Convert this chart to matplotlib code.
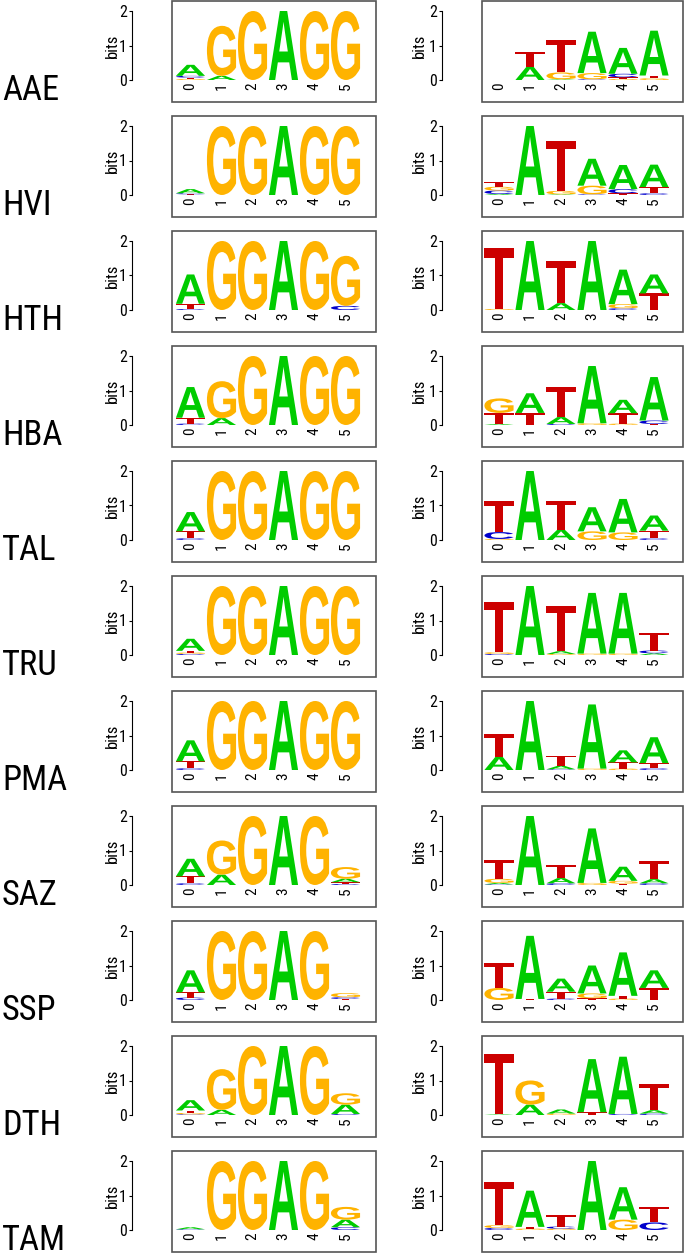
import matplotlib
matplotlib.use('Agg')
import matplotlib.pyplot as plt
from matplotlib.textpath import TextPath, TextToPath
from matplotlib.patches import PathPatch, Rectangle
from matplotlib.font_manager import FontProperties
from matplotlib import font_manager as fm
import matplotlib.transforms as mtransforms

# ---------------- data (information content in bits) ----------------
species = ['AAE', 'HVI', 'HTH', 'HBA', 'TAL', 'TRU', 'PMA', 'SAZ', 'SSP', 'DTH', 'TAM']
bases = ['A', 'C', 'G', 'T']
positions = [0, 1, 2, 3, 4, 5]
ytick_values = [0, 1, 2]

# each row: position 0..5, heights of (A, C, G, T)
AAE_L = [(.32, .05, .03, .04), (.12, 0, 1.45, 0), (0, 0, 2.0, 0), (2.0, 0, 0, 0), (0, 0, 2.0, 0), (0, 0, 2.0, 0)]
AAE_R = [(0, 0, 0, 0), (.38, 0, 0, .43), (.02, 0, .2, .95), (1.2, .02, .18, 0), (.75, .1, .03, .05), (1.3, 0, .05, .08)]
HVI_L = [(.12, .03, 0, .02), (0, 0, 2.0, 0), (0, 0, 2.0, 0), (2.0, 0, 0, 0), (0, 0, 2.0, 0), (0, 0, 2.0, 0)]
HVI_R = [(.03, .1, .11, .14), (2.0, 0, 0, 0), (.02, 0, .1, 1.45), (.78, .02, .25, 0), (.7, .12, 0, .05), (.65, .05, 0, .18)]
HTH_L = [(.85, .03, 0, .15), (0, 0, 2.0, 0), (0, 0, 2.0, 0), (2.0, 0, 0, 0), (0, 0, 2.0, 0), (0, .12, 1.45, 0)]
HTH_R = [(0, 0, .03, 1.77), (2.0, 0, 0, 0), (.2, 0, 0, 1.22), (2.0, 0, 0, 0), (1.0, .05, .12, 0), (.55, 0, 0, .48)]
HBA_L = [(.89, .04, 0, .17), (.2, 0, 1.07, 0), (0, 0, 2.0, 0), (2.0, 0, 0, 0), (0, 0, 2.0, 0), (0, 0, 2.0, 0)]
HBA_R = [(.03, 0, .42, .32), (.57, 0, 0, .35), (.2, .03, 0, .88), (1.66, 0, .05, 0), (.39, 0, .04, .3), (1.26, .1, 0, .03)]
TAL_L = [(.56, .05, 0, .2), (0, 0, 2.0, 0), (0, 0, 2.0, 0), (2.0, 0, 0, 0), (0, 0, 2.0, 0), (0, 0, 2.0, 0)]
TAL_R = [(0, .2, .03, .91), (2.0, 0, 0, 0), (.3, 0, 0, .84), (.7, 0, .25, 0), (.97, 0, .22, 0), (.44, .05, 0, .22)]
TRU_L = [(.35, .03, .04, .05), (0, 0, 2.0, 0), (0, 0, 2.0, 0), (2.0, 0, 0, 0), (0, 0, 2.0, 0), (0, 0, 2.0, 0)]
TRU_R = [(0, .03, .05, 1.46), (2.0, 0, 0, 0), (.08, 0, .03, 1.32), (1.76, 0, .04, 0), (1.76, 0, .04, 0), (.05, .08, 0, .52)]
PMA_L = [(.61, .05, 0, .2), (0, 0, 2.0, 0), (0, 0, 2.0, 0), (2.0, 0, 0, 0), (0, 0, 2.0, 0), (0, 0, 2.0, 0)]
PMA_R = [(.38, 0, 0, .67), (2.0, 0, 0, 0), (.1, .02, 0, .3), (1.86, 0, .04, 0), (.35, 0, .04, .18), (.75, .05, 0, .15)]
SAZ_L = [(.51, .05, 0, .2), (.3, 0, .99, 0), (0, 0, 2.0, 0), (2.0, 0, 0, 0), (0, 0, 2.0, 0), (.1, .03, .34, .05)]
SAZ_R = [(.04, .02, .12, .55), (2.0, 0, 0, 0), (.15, .05, 0, .39), (1.58, 0, .06, 0), (.41, 0, .08, .04), (.12, .05, 0, .54)]
SSP_L = [(.64, .07, 0, .15), (0, 0, 2.0, 0), (0, 0, 2.0, 0), (2.0, 0, 0, 0), (0, 0, 2.0, 0), (0, .05, .12, .03)]
SSP_R = [(0, 0, .35, .72), (1.83, 0, 0, .03), (.38, .04, 0, .2), (.81, 0, .14, .05), (1.26, 0, .04, .08), (.51, 0, 0, .35)]
DTH_L = [(.3, .02, .04, .07), (.15, 0, 1.18, 0), (0, 0, 2.0, 0), (2.0, 0, 0, 0), (0, 0, 2.0, 0), (.27, .03, .33, 0)]
DTH_R = [(.02, 0, 0, 1.76), (.3, 0, .7, 0), (.12, 0, .04, 0), (1.54, 0, 0, .08), (1.66, .03, 0, 0), (.1, .04, 0, .76)]
TAM_L = [(.06, .02, 0, 0), (0, 0, 2.0, 0), (0, 0, 2.0, 0), (2.0, 0, 0, 0), (0, 0, 2.0, 0), (.22, .08, .37, 0)]
TAM_R = [(0, .06, .08, 1.24), (1.05, 0, .04, .05), (0, .06, .04, .33), (2.0, 0, 0, 0), (.94, 0, .3, 0), (0, .22, 0, .45)]

left_logos = [AAE_L, HVI_L, HTH_L, HBA_L, TAL_L, TRU_L, PMA_L, SAZ_L, SSP_L, DTH_L, TAM_L]
right_logos = [AAE_R, HVI_R, HTH_R, HBA_R, TAL_R, TRU_R, PMA_R, SAZ_R, SSP_R, DTH_R, TAM_R]

colors = {'A': '#00CC00', 'C': '#0000CC', 'G': '#FFB300', 'T': '#CC0000'}


# ---------------- fonts ----------------
def pick(names):
    for n in names:
        try:
            fm.findfont(FontProperties(family=n), fallback_to_default=False)
            return n
        except Exception:
            pass
    return 'DejaVu Sans'


def find_narrow():
    prefs = ['liberation sans narrow', 'roboto condensed', 'noto sans', 'open sans', 'dejavu sans']
    best = None
    for f in fm.fontManager.ttflist:
        n = f.name.lower()
        fn = f.fname.lower().replace('\\', '/').split('/')[-1]
        if f.style != 'normal' or f.weight not in (400, 'normal', 'regular'):
            continue
        cond = ('narrow' in n or 'condensed' in n or
                (str(f.stretch) in ('condensed', 'semi-condensed')) or
                ('condensed' in fn and 'extra' not in fn and 'ultra' not in fn))
        if not cond or 'bold' in fn or 'italic' in fn or 'light' in fn or 'medium' in fn:
            continue
        rank = next((i for i, p in enumerate(prefs) if n.startswith(p)), 99)
        if best is None or rank < best[0]:
            best = (rank, f.fname)
    return best[1] if best else None


narrow_file = find_narrow()
if narrow_file:
    text_prop = lambda size: FontProperties(fname=narrow_file, size=size)
else:
    fam = pick(['Liberation Sans', 'DejaVu Sans'])
    text_prop = lambda size: FontProperties(family=fam, size=size)

# size the row labels so "AAE" is about 57 px wide and at most 25 px cap height
_w, _h, _d = TextToPath().get_text_width_height_descent('AAE', text_prop(25), ismath=False)
label_size = min(25.0, 25.0 * 57.0 / (_w * 100 / 72.0))
scale_small = label_size / 25.0

letter_family = pick(['Liberation Sans', 'DejaVu Sans'])
letter_font = FontProperties(family=letter_family, weight='bold')
glyphs = {}
for b in bases:
    p = TextPath((0, 0), b, size=1, prop=letter_font)
    glyphs[b] = (p, p.get_extents())


def draw_letter(ax, b, x, y0, h, w=0.94):
    p, ext = glyphs[b]
    tr = (mtransforms.Affine2D()
          .translate(-ext.x0, -ext.y0)
          .scale(w / ext.width, h / ext.height)
          .translate(x - w / 2, y0))
    ax.add_patch(PathPatch(p, transform=tr + ax.transData,
                           facecolor=colors[b], edgecolor='none', lw=0))


# ---------------- layout (pixels) ----------------
W, H = 685, 1260
fig = plt.figure(figsize=(W / 100, H / 100), dpi=100)
pitch = 115
box_h = 101
base_off = 79      # zero line offset from box top
two_off = 10       # 2-bit line offset from box top
ppb = (base_off - two_off) / 2.0
ylim = (-(box_h - base_off) / ppb, 2 + two_off / ppb)

cols = [
    dict(x0=172, x1=376, p0=190.5, dp=31.0, bits_x=112),
    dict(x0=482, x1=683, p0=499.0, dp=31.0, bits_x=419),
]

tick_size = 11.5 * max(scale_small, 0.85)
xnum_size = 11.0 * max(scale_small, 0.85)
bits_size = 12.0 * max(scale_small, 0.85)


def make_logo(col, top, data):
    ax = fig.add_axes([col['x0'] / W, 1 - (top + box_h) / H,
                       (col['x1'] - col['x0']) / W, box_h / H])
    ax.set_xlim((col['x0'] - col['p0']) / col['dp'], (col['x1'] - col['p0']) / col['dp'])
    ax.set_ylim(*ylim)
    for s in ['top', 'right', 'bottom']:
        ax.spines[s].set_visible(False)
    ax.spines['left'].set_position(('outward', 29))
    ax.spines['left'].set_bounds(0, 2)
    ax.spines['left'].set_linewidth(0.8)
    ax.set_yticks(ytick_values)
    ax.set_yticklabels([str(v) for v in ytick_values], fontproperties=text_prop(tick_size))
    ax.tick_params(axis='y', length=2.5, width=0.8, pad=1)
    ax.set_xticks([])
    ax.patch.set_visible(False)
    ax.add_patch(Rectangle((0, 0), 1, 1, transform=ax.transAxes, fill=False,
                           edgecolor='#555555', lw=1.2, clip_on=False))
    bx = (col['bits_x'] - col['x0']) / (col['x1'] - col['x0'])
    ax.text(bx, 1.0, 'bits',
            transform=mtransforms.blended_transform_factory(ax.transAxes, ax.transData),
            rotation=90, ha='center', va='center', fontproperties=text_prop(bits_size))
    for pos, heights in zip(positions, data):
        order = sorted(range(4), key=lambda k: heights[k])
        y = 0.0
        for k in order:
            h = heights[k]
            if h <= 0:
                continue
            draw_letter(ax, bases[k], pos, y, h)
            y += h
        ax.text(pos, -0.07, str(pos), rotation=90, ha='center', va='top',
                fontproperties=text_prop(xnum_size))
    return ax


for i, name in enumerate(species):
    top = pitch * i + 1
    make_logo(cols[0], top, left_logos[i])
    make_logo(cols[1], top, right_logos[i])
    fig.text(2 / W, 1 - (100 + 115.0 * i) / H, name, ha='left', va='baseline',
             fontproperties=text_prop(label_size))

fig.savefig('out.png', dpi=100)
